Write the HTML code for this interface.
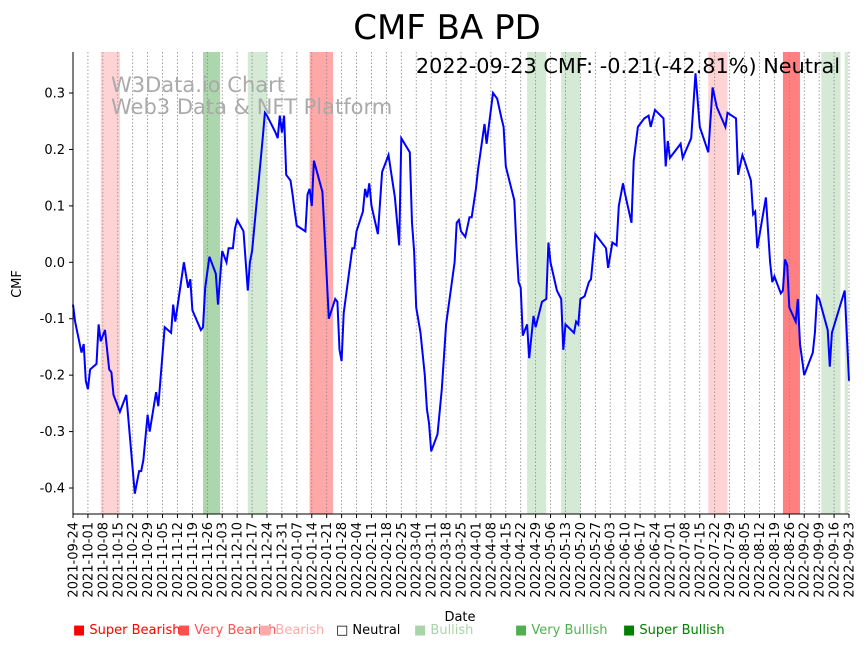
<!DOCTYPE html>
<html><head><meta charset="utf-8">
<style>
body{margin:0;background:#fff;}
svg{display:block;font-family:"DejaVu Sans","Liberation Sans",sans-serif;}
</style></head>
<body>
<svg id="chart" width="864" height="646" xmlns="http://www.w3.org/2000/svg">
<text x="447" y="39" font-size="34" text-anchor="middle">CMF BA PD</text>
<g id="bands"></g>
<g id="grid"></g>
<text x="111" y="92" font-size="21" fill="#aaa">W3Data.io Chart</text>
<text x="111" y="114" font-size="21" fill="#aaa">Web3 Data &amp; NFT Platform</text>
<path id="line" fill="none" stroke="#0000ff" stroke-width="2"/>
<text x="840" y="73" font-size="20.8" text-anchor="end">2022-09-23 CMF: -0.21(-42.81%) Neutral</text>
<g id="axes"></g>
<text x="21" y="284" font-size="13" text-anchor="middle" transform="rotate(-90 21 284)">CMF</text>
<text x="460" y="621" font-size="13" text-anchor="middle">Date</text>
<g font-size="13">
<text x="73" y="634" fill="#ff0000">■ Super Bearish</text>
<text x="178" y="634" fill="#ff5050">■ Very Bearish</text>
<text x="259" y="634" fill="#ffaaaa">■ Bearish</text>
<text x="336" y="634" fill="#000">□ Neutral</text>
<text x="414" y="634" fill="#a8d5a8">■ Bullish</text>
<text x="515" y="634" fill="#50b050">■ Very Bullish</text>
<text x="623" y="634" fill="#008000">■ Super Bullish</text>
</g>
</svg>
<script>
const dayOffsets=[0,1,4,5,6,7,8,11,12,13,15,17,18,19,22,25,29,31,32,33,35,36,39,40,43,46,47,48,52,54,55,56,60,61,62,64,67,68,70,72,73,75,76,77,80,82,83,84,86,87,89,90,91,95,96,97,98,99,100,102,103,104,105,109,110,111,112,113,117,118,120,123,124,125,126,127,131,132,133,136,137,138,139,140,143,145,148,151,153,154,158,159,160,161,163,165,166,167,168,171,173,175,179,180,181,182,184,186,187,189,190,193,194,197,199,201,202,203,205,207,208,209,210,211,213,214,216,217,220,222,223,224,227,229,230,231,235,236,237,238,240,242,243,245,250,251,253,255,256,258,259,262,263,265,268,270,271,273,277,278,279,280,285,286,290,292,294,298,300,302,306,307,309,311,312,314,315,318,319,320,321,325,327,328,329,332,333,334,335,336,339,340,341,343,347,348,349,350,354,355,356,362,364];
const cmfValues=[-0.075,-0.105,-0.16,-0.145,-0.21,-0.225,-0.19,-0.18,-0.11,-0.14,-0.12,-0.19,-0.195,-0.235,-0.265,-0.235,-0.41,-0.37,-0.37,-0.35,-0.27,-0.3,-0.23,-0.255,-0.115,-0.125,-0.075,-0.105,0.0,-0.045,-0.03,-0.085,-0.12,-0.115,-0.045,0.01,-0.02,-0.075,0.02,0.0,0.025,0.025,0.06,0.075,0.055,-0.05,0.0,0.02,0.1,0.14,0.22,0.265,0.26,0.23,0.22,0.26,0.23,0.26,0.155,0.145,0.12,0.09,0.065,0.055,0.12,0.13,0.1,0.18,0.125,0.05,-0.1,-0.065,-0.07,-0.155,-0.175,-0.09,0.025,0.025,0.055,0.09,0.13,0.115,0.14,0.1,0.05,0.16,0.19,0.115,0.03,0.22,0.195,0.07,0.02,-0.08,-0.125,-0.2,-0.26,-0.285,-0.335,-0.305,-0.225,-0.11,0.0,0.07,0.075,0.055,0.045,0.08,0.08,0.13,0.165,0.245,0.21,0.3,0.29,0.255,0.24,0.17,0.14,0.11,0.03,-0.035,-0.045,-0.13,-0.11,-0.17,-0.095,-0.115,-0.07,-0.065,0.035,0.0,-0.05,-0.065,-0.155,-0.11,-0.125,-0.105,-0.11,-0.065,-0.06,-0.035,-0.03,0.05,0.025,-0.01,0.035,0.03,0.1,0.14,0.12,0.07,0.18,0.24,0.255,0.26,0.24,0.27,0.255,0.17,0.215,0.185,0.21,0.185,0.22,0.335,0.24,0.195,0.31,0.275,0.24,0.265,0.26,0.255,0.155,0.19,0.18,0.145,0.085,0.09,0.025,0.115,0.0,-0.035,-0.025,-0.055,-0.05,0.005,-0.005,-0.08,-0.105,-0.065,-0.145,-0.2,-0.16,-0.125,-0.06,-0.065,-0.12,-0.185,-0.125,-0.05,-0.21];
const bandStarts=[13,61,82,111,213,229,298,333,351,362];
const bandEnds=[22,69,91,122,222,238,307,341,360,363.5];
const bandColors=["#ffd3d3","#acd6ac","#d4ead4","#ffa8a8","#d4ead4","#d4ead4","#ffd3d3","#ff8080","#d4ead4","#d4ead4"];
const yTicks=[0.3,0.2,0.1,0.0,-0.1,-0.2,-0.3,-0.4];
const startDate=new Date(Date.UTC(2021,8,24));
const L=73,R=849,T=52,B=514,D=364;
const x=d=>L+(R-L)*d/D;
const y=v=>262.3-(v)*564.3;
const NS="http://www.w3.org/2000/svg";
function mk(tag,attrs,parent){const e=document.createElementNS(NS,tag);for(const k in attrs)e.setAttribute(k,attrs[k]);parent.appendChild(e);return e;}
const bands=document.getElementById('bands');
bandStarts.forEach((s,i)=>{
  const r=mk('rect',{x:x(s),y:T,width:x(bandEnds[i])-x(s),height:B-T,fill:bandColors[i]},bands);
  
  
});
const grid=document.getElementById('grid'),axes=document.getElementById('axes');
for(let k=0;k<=52;k++){
  const d=k*7,px=x(d);
  const g=mk('line',{x1:px,x2:px,y1:T,y2:B,stroke:'#888','stroke-width':0.8,'stroke-dasharray':'1.5,2'},grid);
  
  
  mk('line',{x1:px,x2:px,y1:B,y2:B+4,stroke:'#000'},axes);
  const dt=new Date(startDate.getTime()+d*86400000);
  const lbl=dt.toISOString().slice(0,10);
  const t=mk('text',{x:px+4.5,y:B+8,'font-size':13,'text-anchor':'end',transform:`rotate(-90 ${px+4.5} ${B+8})`},axes);
  t.textContent=lbl;
  
  
}
yTicks.forEach(v=>{
  const py=y(v);
  mk('line',{x1:L-4,x2:L,y1:py,y2:py,stroke:'#000'},axes);
  const t=mk('text',{x:L-8,y:py+4.5,'font-size':13,'text-anchor':'end'},axes);
  t.textContent=v.toFixed(1);
  
  
});
mk('line',{x1:L,x2:L,y1:T,y2:B,stroke:'#000'},axes);
mk('line',{x1:L,x2:R,y1:B,y2:B,stroke:'#000'},axes);
document.getElementById('line').setAttribute('d',dayOffsets.map((d,i)=>(i?'L':'M')+x(d).toFixed(1)+','+y(cmfValues[i]).toFixed(1)).join(''));
</script>
</body></html>
